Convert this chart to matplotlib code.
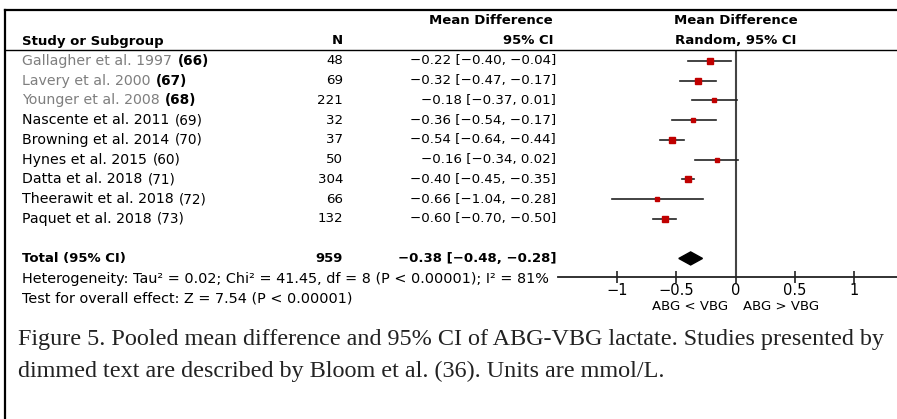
import matplotlib
matplotlib.use("Agg")
import matplotlib.pyplot as plt
from matplotlib.lines import Line2D
from matplotlib.transforms import blended_transform_factory

# Study data
studies = ["Gallagher et al. 1997", "Lavery et al. 2000", "Younger et al. 2008",
           "Nascente et al. 2011", "Browning et al. 2014", "Hynes et al. 2015",
           "Datta et al. 2018", "Theerawit et al. 2018", "Paquet et al. 2018"]
refs = ["(66)", "(67)", "(68)", "(69)", "(70)", "(60)", "(71)", "(72)", "(73)"]
dimmed = [True, True, True, False, False, False, False, False, False]
n = [48, 69, 221, 32, 37, 50, 304, 66, 132]
md = [-0.22, -0.32, -0.18, -0.36, -0.54, -0.16, -0.40, -0.66, -0.60]
ci_lo = [-0.40, -0.47, -0.37, -0.54, -0.64, -0.34, -0.45, -1.04, -0.70]
ci_hi = [-0.04, -0.17, 0.01, -0.17, -0.44, 0.02, -0.35, -0.28, -0.50]
weights = [10.5, 11, 9.5, 9.5, 13.5, 9.5, 16, 6.5, 14]  # estimated %

total_n = 959
total_md, total_lo, total_hi = -0.38, -0.48, -0.28
heterogeneity = "Heterogeneity: Tau² = 0.02; Chi² = 41.45, df = 8 (P < 0.00001); I² = 81%"
overall = "Test for overall effect: Z = 7.54 (P < 0.00001)"
xticks = [-1, -0.5, 0, 0.5, 1]
xtick_labels = ["\u22121", "\u22120.5", "0", "0.5", "1"]
caption = ["Figure 5. Pooled mean difference and 95% CI of ABG-VBG lactate. Studies presented by",
           "dimmed text are described by Bloom et al. (36). Units are mmol/L."]

W, H = 897, 419
plt.rcParams['font.family'] = ['DejaVu Sans']
fig = plt.figure(figsize=(W / 100, H / 100), dpi=100)


def fx(x):
    return x / W


def fy(y):
    return 1 - y / H


def fmt(v):
    return f"{v:.2f}".replace("-", "\u2212")


# forest plot axes: x=0 at px 736, 118.4 px per unit; rows every 19.75 px
ax = fig.add_axes([fx(558), fy(277), fx(897 - 558), (277 - 50) / H])
ax.set_xlim(-1.5, 1.362)
ax.set_ylim(10.94, -0.557)
ax.set_facecolor("none")
for s in ["top", "right", "left"]:
    ax.spines[s].set_visible(False)
ax.spines["bottom"].set_linewidth(1.3)
ax.spines["bottom"].set_color("#222222")
ax.set_yticks([])
ax.set_xticks(xticks)
ax.set_xticklabels(xtick_labels, fontsize=10.5)
ax.tick_params(axis="x", direction="inout", length=8, width=1.2, color="#222222", pad=0)
ax.axvline(0, color="#444444", lw=1.5)

rows = list(range(len(studies)))
for i in rows:
    ax.plot([ci_lo[i], ci_hi[i]], [i, i], color="#222222", lw=1.2, zorder=2)
    ax.plot(md[i], i, marker="s", color="#c00000", ms=1.14 * weights[i] ** 0.5,
            mec="#c00000", zorder=3)

total_row = len(studies) + 1
ax.fill([total_lo, total_md, total_hi, total_md],
        [total_row, total_row - 0.33, total_row, total_row + 0.33], color="black", zorder=3)

# text columns
tr = blended_transform_factory(fig.transFigure, ax.transData)
fs = 10.2     # names
fs_note = 10.4
fs_num = 9.6  # numeric columns
fs_b = 9.5    # bold headers
x0 = fx(22)
for i in rows:
    col = "#7f7f7f" if dimmed[i] else "black"
    t = ax.text(x0, i, studies[i], transform=tr, ha="left", va="center",
                fontsize=fs, color=col)
    ax.annotate(refs[i], xy=(1, 0.5), xycoords=t, xytext=(4, 0), textcoords="offset points",
                ha="left", va="center", fontsize=fs - 0.4,
                fontweight="bold" if dimmed[i] else "normal", color="black")
    ax.text(fx(343), i, str(n[i]), transform=tr, ha="right", va="center", fontsize=fs_num)
    ax.text(fx(556), i, f"{fmt(md[i])} [{fmt(ci_lo[i])}, {fmt(ci_hi[i])}]", transform=tr,
            ha="right", va="center", fontsize=fs_num)

ax.text(x0, total_row, "Total (95% CI)", transform=tr, ha="left", va="center",
        fontsize=fs_b, fontweight="bold")
ax.text(fx(343), total_row, str(total_n), transform=tr, ha="right", va="center",
        fontsize=fs_b, fontweight="bold")
ax.text(fx(556), total_row, f"{fmt(total_md)} [{fmt(total_lo)}, {fmt(total_hi)}]",
        transform=tr, ha="right", va="center", fontsize=fs_b, fontweight="bold")

fig.text(x0, fy(279), heterogeneity, ha="left", va="center", fontsize=fs_note)
fig.text(x0, fy(298), overall, ha="left", va="center", fontsize=fs_note)

# headers
fig.text(x0, fy(41), "Study or Subgroup", ha="left", va="center", fontsize=fs_b, fontweight="bold")
fig.text(fx(343), fy(41), "N", ha="right", va="center", fontsize=fs_b, fontweight="bold")
fig.text(fx(553), fy(21), "Mean Difference", ha="right", va="center", fontsize=fs_b, fontweight="bold")
fig.text(fx(553), fy(41), "95% CI", ha="right", va="center", fontsize=fs_b, fontweight="bold")
fig.text(fx(736), fy(21), "Mean Difference", ha="center", va="center", fontsize=fs_b, fontweight="bold")
fig.text(fx(736), fy(41), "Random, 95% CI", ha="center", va="center", fontsize=fs_b, fontweight="bold")

fig.text(fx(728), fy(306), "ABG < VBG", ha="right", va="center", fontsize=9.5)
fig.text(fx(743), fy(306), "ABG > VBG", ha="left", va="center", fontsize=9.5)

# borders
fig.add_artist(Line2D([fx(5), 1], [fy(10), fy(10)], color="black", lw=1.6))
fig.add_artist(Line2D([fx(5), fx(5)], [fy(10), 0], color="black", lw=1.6))
fig.add_artist(Line2D([fx(5), 1], [fy(50), fy(50)], color="black", lw=1.0))

# caption
for k, line in enumerate(caption):
    fig.text(fx(18), fy(339 + 32 * k), line, ha="left", va="center", fontsize=17.4,
             family="Liberation Serif", color="#222222")

fig.savefig("out.png", dpi=100)
